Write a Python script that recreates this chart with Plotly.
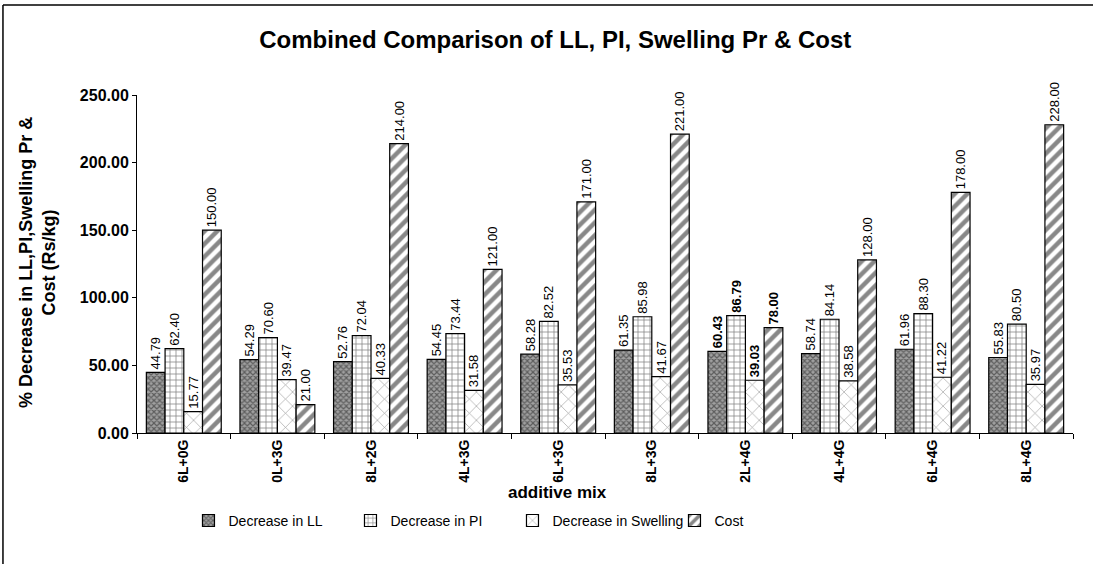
import plotly.graph_objects as go

categories = ["6L+0G", "0L+3G", "8L+2G", "4L+3G", "6L+3G", "8L+3G", "2L+4G", "4L+4G", "6L+4G", "8L+4G"]
dec_ll = [44.79, 54.29, 52.76, 54.45, 58.28, 61.35, 60.43, 58.74, 61.96, 55.83]
dec_pi = [62.40, 70.60, 72.04, 73.44, 82.52, 85.98, 86.79, 84.14, 88.30, 80.50]
dec_sw = [15.77, 39.47, 40.33, 31.58, 35.53, 41.67, 39.03, 38.58, 41.22, 35.97]
cost = [150.00, 21.00, 214.00, 121.00, 171.00, 221.00, 78.00, 128.00, 178.00, 228.00]
series_names = ["Decrease in LL", "Decrease in PI", "Decrease in Swelling", "Cost"]
bold_category = "2L+4G"

FONT = "Liberation Sans, Arial, sans-serif"

def labels(vals):
    out = []
    for c, v in zip(categories, vals):
        s = f"{v:.2f}"
        out.append(f"<b>{s}</b>" if c == bold_category else s)
    return out

patterns = [
    dict(shape="x", size=4, solidity=0.5, fgcolor="#1a1a1a", bgcolor="#a0a0a0"),
    dict(shape="+", size=6, solidity=0.25, fgcolor="#111111", bgcolor="white"),
    dict(shape="x", size=10, solidity=0.12, fgcolor="#333333", bgcolor="white"),
    dict(shape="/", size=9, solidity=0.5, fgcolor="#111111", bgcolor="white"),
]

fig = go.Figure()
for name, vals, pat in zip(series_names, [dec_ll, dec_pi, dec_sw, cost], patterns):
    fig.add_trace(go.Bar(
        x=categories, y=vals, name=name,
        text=labels(vals), textposition="outside", textangle=-90,
        constraintext="none", cliponaxis=False,
        textfont=dict(family=FONT, size=13, color="black"),
        marker=dict(color="white", pattern=pat, line=dict(color="black", width=1.2)),
    ))

fig.update_layout(
    width=1093, height=564,
    margin=dict(l=137, r=20, t=95, b=131),
    paper_bgcolor="white", plot_bgcolor="white",
    barmode="group", bargap=0.2, bargroupgap=0,
    font=dict(family=FONT, color="black"),
    title=dict(text="<b>Combined Comparison of LL, PI, Swelling Pr & Cost</b>",
               x=0.508, xanchor="center", y=0.93, yanchor="middle",
               font=dict(size=24, family=FONT)),
    showlegend=True,
    legend=dict(orientation="h", x=0.055, xanchor="left", y=-0.26, yanchor="middle",
                font=dict(size=14, family=FONT), entrywidth=117, entrywidthmode="pixels",
                itemwidth=30, traceorder="normal"),
    xaxis=dict(
        tickangle=-90, tickfont=dict(size=14, family=FONT),
        showline=True, linecolor="black", linewidth=1,
        ticks="outside", ticklen=5, tickcolor="black", tickson="boundaries",
        showgrid=False, tickprefix="<b>", ticksuffix="</b>",
    ),
    yaxis=dict(
        range=[0, 250], dtick=50, tickformat=".2f",
        tickfont=dict(size=16, family=FONT), tickprefix="<b>", ticksuffix="</b>",
        showline=True, linecolor="black", linewidth=1,
        ticks="outside", ticklen=4, tickcolor="black",
        showgrid=False, zeroline=False,
    ),
    annotations=[
        dict(text="<b>additive mix</b>", xref="paper", yref="paper",
             x=0.449, y=-0.175, xanchor="center", yanchor="middle", showarrow=False,
             font=dict(size=17, family=FONT)),
        dict(text="<b>% Decrease in LL,PI,Swelling Pr &<br>Cost (Rs/kg)</b>", xref="paper", yref="paper",
             x=-0.1058, y=0.506, xanchor="center", yanchor="middle", showarrow=False,
             textangle=-90, font=dict(size=18, family=FONT)),
    ],
)

# outer chart frame (left and top edges visible in the reference)
fig.add_shape(type="line", xref="paper", yref="paper",
              x0=-0.1432, x1=1.1, y0=1.266, y1=1.266, line=dict(color="black", width=1.5))
fig.add_shape(type="line", xref="paper", yref="paper",
              x0=-0.1432, x1=-0.1432, y0=1.266, y1=-0.45, line=dict(color="black", width=1.5))

fig.write_html("out.html")
